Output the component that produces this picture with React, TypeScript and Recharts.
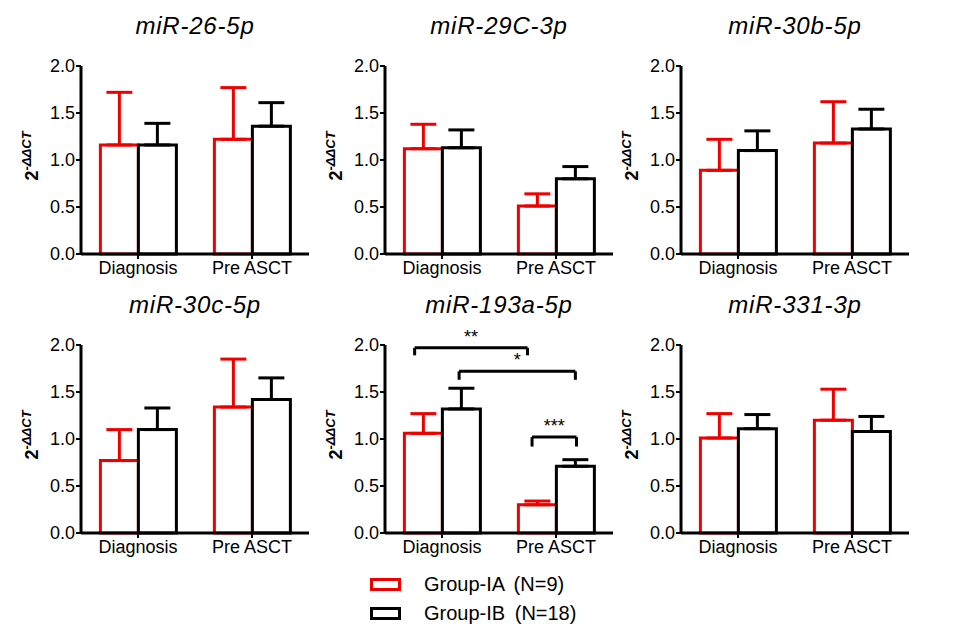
import React from 'react';
import {
  ComposedChart, Bar, XAxis, YAxis, ErrorBar, ReferenceLine, ReferenceDot,
} from 'recharts';

// ---- data ----
const categories = ['Diagnosis', 'Pre ASCT'];
const yTicks = [0, 0.5, 1.0, 1.5, 2.0];

const titles = ['miR-26-5p', 'miR-29C-3p', 'miR-30b-5p', 'miR-30c-5p', 'miR-193a-5p', 'miR-331-3p'];

// Group-IA (N=9) means and upper error (SEM) per panel: [Diagnosis, Pre ASCT]
const iaMean = [
  [1.16, 1.22],
  [1.12, 0.51],
  [0.89, 1.18],
  [0.77, 1.34],
  [1.06, 0.30],
  [1.01, 1.20],
];
const iaErr = [
  [0.56, 0.55],
  [0.26, 0.13],
  [0.33, 0.44],
  [0.33, 0.51],
  [0.21, 0.04],
  [0.26, 0.33],
];
// Group-IB (N=18)
const ibMean = [
  [1.16, 1.36],
  [1.13, 0.80],
  [1.10, 1.33],
  [1.10, 1.42],
  [1.32, 0.71],
  [1.11, 1.08],
];
const ibErr = [
  [0.23, 0.25],
  [0.19, 0.13],
  [0.21, 0.21],
  [0.23, 0.23],
  [0.22, 0.07],
  [0.15, 0.16],
];

// significance brackets for miR-193a-5p
// x as fraction of the category axis (0 = left edge, 1 = right edge), y in data units
const brackets = [
  { x1: 0.13, x2: 0.625, y: 1.97, yEnd: 1.89, label: '**' },
  { x1: 0.325, x2: 0.835, y: 1.72, yEnd: 1.63, label: '*' },
  { x1: 0.645, x2: 0.84, y: 1.02, yEnd: 0.92, label: '***' },
];
const bracketPanel = 4;

const legendItems = [
  { name: 'Group-IA', n: 'N=9', color: '#ee0000' },
  { name: 'Group-IB', n: 'N=18', color: '#000000' },
];

// ---- layout ----
const FONT = "'Liberation Sans', Arial, sans-serif";
const RED = '#ee0000';
const CHART_W = 320;
const CHART_H = 290;
const Y_AXIS_W = 81;
const MARGIN = { top: 66, right: 11, bottom: 0, left: 0 };
const panelLefts = [0, 304, 600];
const panelTops = [0, 279];

const YLabel = (props: any) => {
  const vb = props.viewBox || { x: 0, y: 66, width: 81, height: 188 };
  const cx = vb.x + 38;
  const cy = vb.y + vb.height / 2 - 4;
  return (
    <text
      transform={`translate(${cx}, ${cy}) rotate(-90)`}
      textAnchor="middle"
      fontFamily={FONT}
      fontWeight="bold"
      fontSize={18}
      fill="#000"
    >
      2
      <tspan dy={-7} fontSize={13}>-</tspan>
      <tspan fontSize={13} fontStyle="italic">ΔΔCT</tspan>
    </text>
  );
};

function Panel({ idx }: { idx: number }) {
  const data = categories.map((c, i) => ({
    cat: c,
    ia: iaMean[idx][i],
    iaE: [0, iaErr[idx][i]],
    ib: ibMean[idx][i],
    ibE: [0, ibErr[idx][i]],
  }));
  const col = idx % 3;
  const row = Math.floor(idx / 3);
  const left = panelLefts[col];
  const top = panelTops[row];
  const plotW = CHART_W - Y_AXIS_W - MARGIN.right;
  const showBrackets = idx === bracketPanel;
  return (
    <div style={{ position: 'absolute', left, top, width: CHART_W, height: CHART_H }}>
      <div
        style={{
          position: 'absolute',
          left: Y_AXIS_W,
          width: plotW,
          top: 12,
          textAlign: 'center',
          fontFamily: FONT,
          fontStyle: 'italic',
          fontSize: 24,
          letterSpacing: 0.8,
          lineHeight: '28px',
          color: '#000',
        }}
      >
        {titles[idx]}
      </div>
      <ComposedChart
        width={CHART_W}
        height={CHART_H}
        data={data}
        margin={MARGIN}
        barGap={0}
        barCategoryGap="17%"
        style={{ position: 'absolute', left: 0, top: 0 }}
      >
        <XAxis
          dataKey="cat"
          height={36}
          axisLine={{ stroke: '#000', strokeWidth: 3 }}
          tickLine={{ stroke: '#000', strokeWidth: 2 }}
          tickSize={5}
          tickMargin={2}
          tick={{ fill: '#000', fontSize: 18, fontFamily: FONT }}
          interval={0}
        />
        {showBrackets && (
          <XAxis
            xAxisId="num"
            type="number"
            domain={[0, 1]}
            allowDataOverflow
            hide
          />
        )}
        <YAxis
          width={Y_AXIS_W}
          domain={[0, 2]}
          ticks={yTicks}
          interval={0}
          tickFormatter={(v: number) => v.toFixed(1)}
          axisLine={{ stroke: '#000', strokeWidth: 3 }}
          tickLine={{ stroke: '#000', strokeWidth: 2 }}
          tickSize={5}
          tickMargin={1}
          tick={{ fill: '#000', fontSize: 18, fontFamily: FONT }}
          label={{ content: YLabel }}
        />
        <Bar dataKey="ia" fill="#fff" stroke={RED} strokeWidth={3} isAnimationActive={false}>
          <ErrorBar dataKey="iaE" width={13} stroke={RED} strokeWidth={3} direction="y" />
        </Bar>
        <Bar dataKey="ib" fill="#fff" stroke="#000" strokeWidth={3} isAnimationActive={false}>
          <ErrorBar dataKey="ibE" width={13} stroke="#000" strokeWidth={3} direction="y" />
        </Bar>
        {showBrackets &&
          brackets.map((b, i) => (
            <ReferenceLine
              key={`h${i}`}
              xAxisId="num"
              segment={[{ x: b.x1, y: b.y }, { x: b.x2, y: b.y }]}
              stroke="#000"
              strokeWidth={3}
            />
          ))}
        {showBrackets &&
          brackets.map((b, i) => (
            <ReferenceLine
              key={`l${i}`}
              xAxisId="num"
              segment={[{ x: b.x1, y: b.y }, { x: b.x1, y: b.yEnd }]}
              stroke="#000"
              strokeWidth={3}
            />
          ))}
        {showBrackets &&
          brackets.map((b, i) => (
            <ReferenceLine
              key={`r${i}`}
              xAxisId="num"
              segment={[{ x: b.x2, y: b.y }, { x: b.x2, y: b.yEnd }]}
              stroke="#000"
              strokeWidth={3}
            />
          ))}
        {showBrackets &&
          brackets.map((b, i) => (
            <ReferenceDot
              key={`t${i}`}
              xAxisId="num"
              x={(b.x1 + b.x2) / 2}
              y={b.y}
              r={1}
              shape={(p: any) => (
                <text
                  x={p.cx}
                  y={p.cy - 5}
                  textAnchor="middle"
                  fontFamily={FONT}
                  fontSize={18}
                  fill="#000"
                >
                  {b.label}
                </text>
              )}
            />
          ))}
      </ComposedChart>
    </div>
  );
}

export default function App() {
  return (
    <div
      style={{
        position: 'absolute',
        left: 0,
        top: 0,
        width: 964,
        height: 636,
        background: '#fff',
        overflow: 'hidden',
      }}
    >
      {titles.map((_, i) => (
        <Panel key={i} idx={i} />
      ))}
      {legendItems.map((it, i) => (
        <div
          key={it.name}
          style={{
            position: 'absolute',
            left: 370,
            top: 574 + i * 29,
            height: 20,
            display: 'flex',
            alignItems: 'center',
            fontFamily: FONT,
            fontSize: 20,
            color: '#000',
          }}
        >
          <div
            style={{
              width: 25,
              height: 7,
              border: `3px solid ${it.color}`,
              marginRight: 23,
            }}
          />
          <span style={{ wordSpacing: 4 }}>
            {it.name} ({it.n})
          </span>
        </div>
      ))}
    </div>
  );
}
